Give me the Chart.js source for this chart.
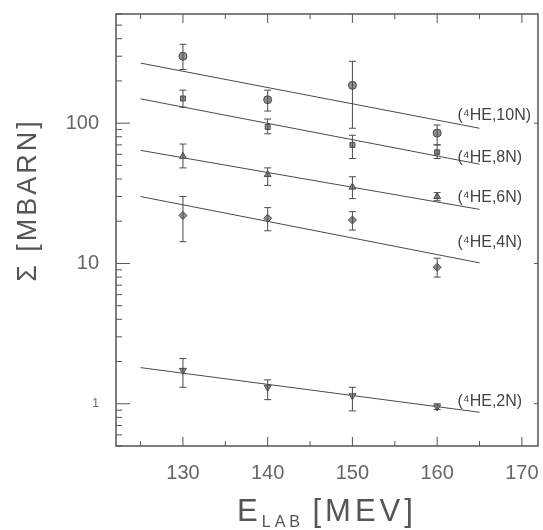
<!DOCTYPE html>
<html>
<head>
<meta charset="utf-8">
<script src="https://cdn.jsdelivr.net/npm/chart.js@4"></script>
<style>
  html, body { margin: 0; padding: 0; background: #fff; }
  #wrap { width: 543px; height: 530px; }
</style>
</head>
<body>
<div id="wrap"><canvas id="chart" width="543" height="530"></canvas></div>
<script>
// energias do feixe (MeV)
const energies = [130, 140, 150, 160];

// secoes de choque medidas (mbarn) e barras de erro
const sigma10n = [300, 147, 186, 85];
const err10nLo = [241, 122, 92, 70];
const err10nHi = [365, 172, 276, 97];

const sigma8n = [150, 94, 70, 62];
const err8nLo = [130, 84, 56, 56];
const err8nHi = [172, 107, 82, 70];

const sigma6n = [58, 43, 35, 30];
const err6nLo = [48, 36, 29, 28];
const err6nHi = [71, 48, 41.5, 32];

const sigma4n = [22, 21, 20.4, 9.4];
const err4nLo = [14.3, 17.1, 17.3, 8.0];
const err4nHi = [30, 25, 23.4, 10.9];

const sigma2n = [1.73, 1.31, 1.14, 0.95];
const err2nLo = [1.31, 1.07, 0.89, 0.91];
const err2nHi = [2.1, 1.48, 1.31, 1.0];

// retas de ajuste (extremos)
const fitE = [125, 165];
const fit10n = [268, 92];
const fit8n = [149, 51];
const fit6n = [64, 24.3];
const fit4n = [30, 10.1];
const fit2n = [1.81, 0.87];

// rotulos das curvas (posicao em coordenadas de dados)
const curveLabels = ['(⁴HE,10N)', '(⁴HE,8N)', '(⁴HE,6N)', '(⁴HE,4N)', '(⁴HE,2N)'];
const curveLabelE = 162.4;
const curveLabelSigma = [114, 56.4, 29.7, 14, 1.03];

const xTicks = [130, 140, 150, 160, 170];
const xMinorTicks = [125, 135, 145, 155, 165];
const yTicks = [1, 10, 100];

const INK = '#4a4a4a';
const MARK = '#8f8f8f';

const toPoints = (xs, ys) => xs.map((x, i) => ({ x: x, y: ys[i] }));

const measured = (values, lo, hi, style, rotation) => ({
    type: 'scatter',
    data: toPoints(energies, values),
    errLo: lo,
    errHi: hi,
    pointStyle: style,
    rotation: rotation || 0,
    pointRadius: style === 'rect' ? 3.5 : 4,
    backgroundColor: MARK,
    borderColor: INK,
    borderWidth: 1,
    showLine: false
});

const fitLine = (values) => ({
    type: 'line',
    data: toPoints(fitE, values),
    borderColor: INK,
    borderWidth: 1,
    pointRadius: 0,
    fill: false
});

const noPad = s => { s.paddingLeft = 0; s.paddingRight = 0; s.paddingTop = 0; s.paddingBottom = 0; };

// barras de erro, moldura, marcas e textos
const decorPlugin = {
    id: 'decor',
    afterDatasetsDraw(chart) {
        const ctx = chart.ctx;
        const xs = chart.scales.x;
        const ys = chart.scales.y;
        const area = chart.chartArea;
        ctx.save();
        ctx.strokeStyle = INK;
        ctx.lineWidth = 1;

        // barras de erro
        chart.data.datasets.forEach(ds => {
            if (!ds.errLo) return;
            ds.data.forEach((p, i) => {
                const px = xs.getPixelForValue(p.x);
                const top = ys.getPixelForValue(ds.errHi[i]);
                const bot = ys.getPixelForValue(ds.errLo[i]);
                ctx.beginPath();
                ctx.moveTo(px, top); ctx.lineTo(px, bot);
                ctx.moveTo(px - 3.5, top); ctx.lineTo(px + 3.5, top);
                ctx.moveTo(px - 3.5, bot); ctx.lineTo(px + 3.5, bot);
                ctx.stroke();
            });
        });

        // moldura
        ctx.strokeStyle = '#555';
        ctx.lineWidth = 1.5;
        ctx.strokeRect(area.left, area.top, area.right - area.left, area.bottom - area.top);

        // marcas do eixo x (baixo e cima)
        ctx.lineWidth = 1;
        const xMark = (v, len) => {
            const px = xs.getPixelForValue(v);
            ctx.beginPath();
            ctx.moveTo(px, area.bottom); ctx.lineTo(px, area.bottom - len);
            ctx.moveTo(px, area.top); ctx.lineTo(px, area.top + len);
            ctx.stroke();
        };
        xTicks.forEach(v => xMark(v, 9));
        xMinorTicks.forEach(v => xMark(v, 5));

        // marcas do eixo y (log)
        for (let dec = 0.1; dec <= 1000; dec *= 10) {
            for (let m = 1; m <= 9; m++) {
                const v = dec * m;
                if (v < ys.min || v > ys.max) continue;
                const py = ys.getPixelForValue(v);
                const len = m === 1 ? 14 : 6;
                ctx.beginPath();
                ctx.moveTo(area.left, py); ctx.lineTo(area.left + len, py);
                ctx.stroke();
                if (m === 1) {
                    ctx.beginPath();
                    ctx.moveTo(area.right, py); ctx.lineTo(area.right - 4, py);
                    ctx.stroke();
                }
            }
        }

        // rotulos das curvas
        ctx.fillStyle = '#444';
        ctx.font = '16px "Liberation Sans", Arial, sans-serif';
        ctx.textAlign = 'left';
        ctx.textBaseline = 'middle';
        curveLabels.forEach((txt, i) => {
            ctx.fillText(txt, xs.getPixelForValue(curveLabelE), ys.getPixelForValue(curveLabelSigma[i]));
        });

        // titulo do eixo y
        ctx.fillStyle = '#555';
        ctx.save();
        ctx.translate(29, 200);
        ctx.rotate(-Math.PI / 2);
        ctx.textAlign = 'center';
        ctx.font = '27px "Liberation Sans", Arial, sans-serif';
        ctx.letterSpacing = '3px';
        ctx.fillText('Σ [MBARN]', 0, 0);
        ctx.restore();

        // titulo do eixo x com subscrito
        const cx = (area.left + area.right) / 2;
        const by = 521;
        ctx.textBaseline = 'alphabetic';
        ctx.textAlign = 'left';
        ctx.letterSpacing = '4px';
        ctx.font = '31px "Liberation Sans", Arial, sans-serif';
        const wE = ctx.measureText('E').width;
        const wMev = ctx.measureText('[MEV]').width;
        ctx.font = '16px "Liberation Sans", Arial, sans-serif';
        const wLab = ctx.measureText('LAB ').width;
        let x0 = cx - (wE + wLab + wMev) / 2;
        ctx.font = '31px "Liberation Sans", Arial, sans-serif';
        ctx.fillText('E', x0, by);
        ctx.font = '16px "Liberation Sans", Arial, sans-serif';
        ctx.fillText('LAB', x0 + wE, by + 6);
        ctx.font = '31px "Liberation Sans", Arial, sans-serif';
        ctx.fillText('[MEV]', x0 + wE + wLab, by);
        ctx.restore();
    }
};

const ctx = document.getElementById('chart').getContext('2d');
new Chart(ctx, {
    data: {
        datasets: [
            measured(sigma10n, err10nLo, err10nHi, 'circle'),
            measured(sigma8n, err8nLo, err8nHi, 'rect'),
            measured(sigma6n, err6nLo, err6nHi, 'triangle'),
            measured(sigma4n, err4nLo, err4nHi, 'rectRot'),
            measured(sigma2n, err2nLo, err2nHi, 'triangle', 180),
            fitLine(fit10n),
            fitLine(fit8n),
            fitLine(fit6n),
            fitLine(fit4n),
            fitLine(fit2n)
        ]
    },
    options: {
        responsive: false,
        animation: false,
        layout: { padding: { top: 14, right: 2, left: 0, bottom: 0 } },
        plugins: {
            legend: { display: false },
            tooltip: { enabled: false }
        },
        scales: {
            x: {
                type: 'linear',
                min: 122.1,
                max: 171.9,
                grid: { display: false, drawTicks: false },
                border: { display: false },
                afterBuildTicks: s => { s.ticks = xTicks.map(v => ({ value: v })); },
                afterFit: s => { s.height = 84; noPad(s); },
                ticks: {
                    padding: 15,
                    color: '#666',
                    maxRotation: 0,
                    font: { family: '"Liberation Sans", Arial, sans-serif', size: 20 },
                    callback: v => String(v)
                }
            },
            y: {
                type: 'logarithmic',
                min: 0.5,
                max: 600,
                grid: { display: false, drawTicks: false },
                border: { display: false },
                afterBuildTicks: s => { s.ticks = yTicks.map(v => ({ value: v })); },
                afterFit: s => { s.width = 116; noPad(s); },
                ticks: {
                    padding: 17,
                    color: '#666',
                    font: c => ({
                        family: '"Liberation Sans", Arial, sans-serif',
                        size: c.tick && c.tick.value === 1 ? 12 : 20
                    }),
                    callback: v => String(v)
                }
            }
        }
    },
    plugins: [decorPlugin]
});
</script>
</body>
</html>
